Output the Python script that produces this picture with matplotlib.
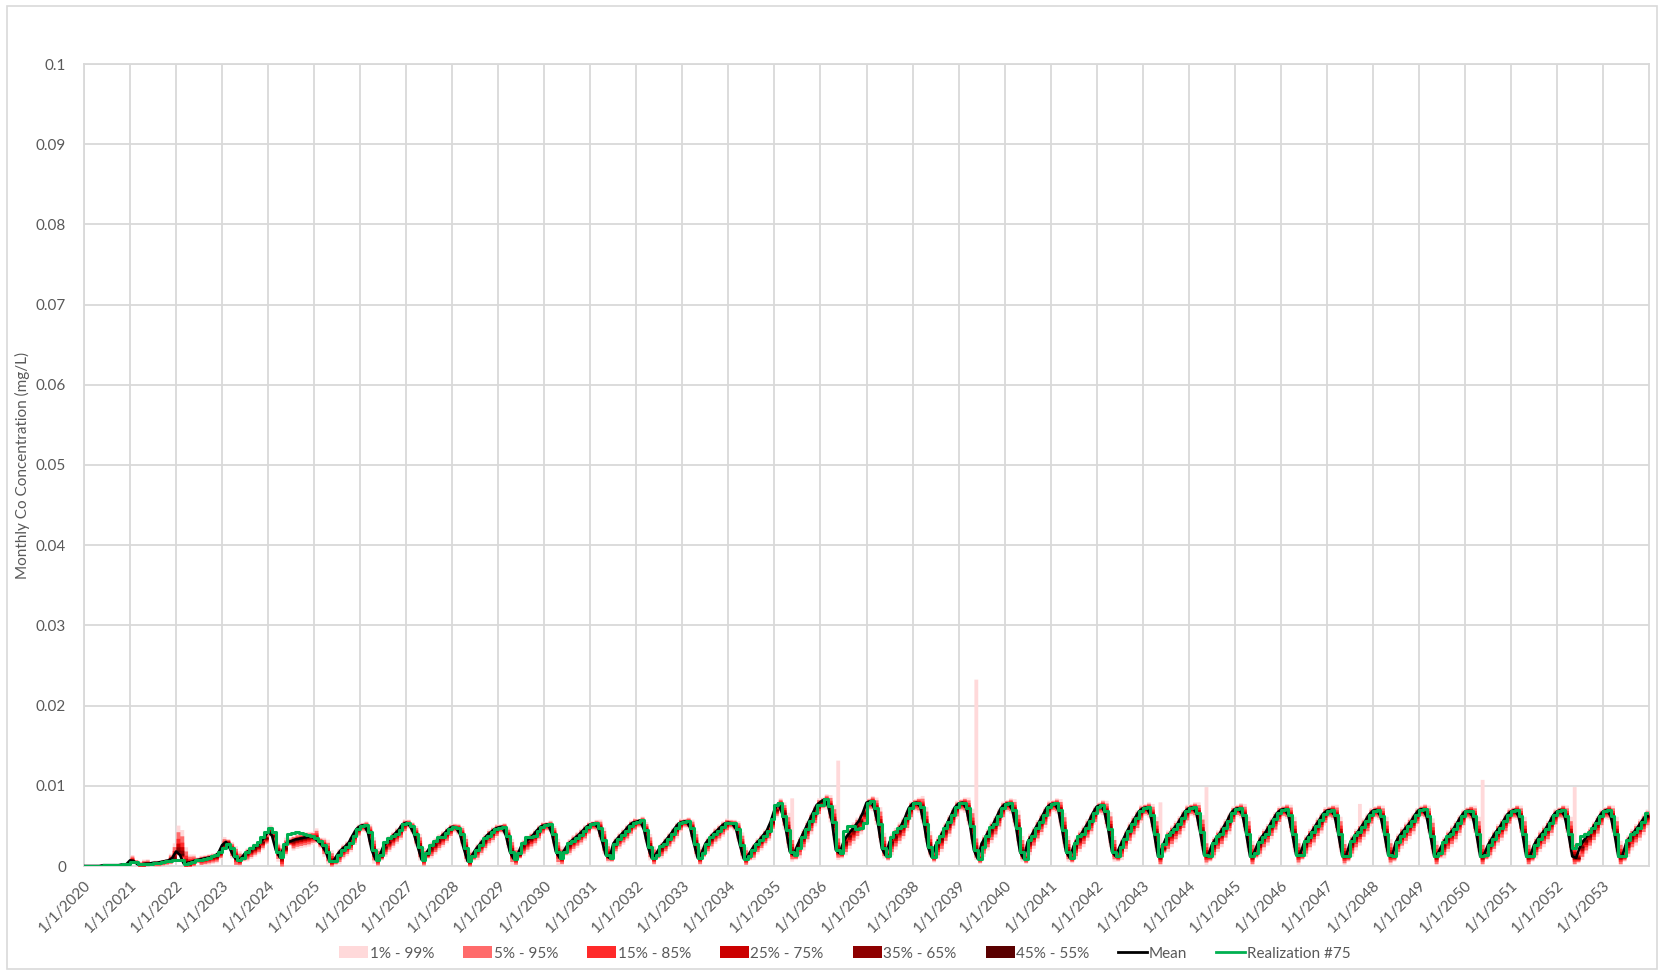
import numpy as np
import matplotlib.pyplot as plt
from matplotlib.patches import Patch, Rectangle
from matplotlib.lines import Line2D

plt.rcParams['font.family'] = ['Lato', 'DejaVu Sans']

# monthly mean Co concentration, units of 1e-4 mg/L, one row per year (Jan..Dec)
years = list(range(2020, 2054))
mean_monthly = [
    [0, 0, 0, 0, 0, 1, 1, 1, 1, 1, 2, 2],          # 2020
    [7, 6, 2, 2, 3, 3, 4, 4, 5, 6, 7, 10],         # 2021
    [18, 14, 3, 4, 5, 7, 8, 9, 10, 11, 12, 16],    # 2022
    [26, 30, 22, 12, 7, 10, 16, 19, 22, 25, 30, 35],  # 2023
    [43, 38, 20, 11, 22, 30, 31, 33, 34, 35, 36, 37],  # 2024
    [35, 31, 26, 18, 6, 6, 14, 20, 24, 29, 38, 46],   # 2025
    [50, 51, 42, 20, 8, 12, 24, 30, 35, 40, 45, 52],  # 2026
    [54, 50, 40, 24, 8, 14, 22, 27, 32, 36, 41, 46],  # 2027
    [49, 48, 40, 22, 6, 12, 20, 26, 32, 38, 42, 46],  # 2028
    [48, 49, 38, 18, 9, 14, 25, 30, 34, 38, 44, 49],  # 2029
    [51, 52, 40, 18, 10, 18, 26, 31, 35, 39, 44, 49],  # 2030
    [52, 53, 48, 32, 14, 10, 28, 34, 39, 44, 50, 54],  # 2031
    [55, 57, 45, 24, 10, 14, 22, 28, 34, 40, 47, 53],  # 2032
    [55, 56, 48, 28, 10, 16, 28, 34, 40, 44, 49, 53],  # 2033
    [54, 53, 46, 26, 9, 12, 20, 27, 32, 38, 44, 55],   # 2034
    [70, 78, 66, 45, 18, 14, 26, 36, 46, 56, 66, 76],  # 2035
    [80, 83, 75, 55, 20, 16, 30, 38, 44, 50, 56, 66],  # 2036
    [79, 81, 72, 52, 22, 13, 30, 37, 44, 50, 60, 72],  # 2037
    [78, 79, 74, 52, 24, 11, 26, 34, 44, 53, 63, 73],  # 2038
    [78, 79, 72, 50, 20, 9, 28, 36, 45, 52, 62, 72],   # 2039
    [77, 78, 70, 48, 18, 9, 30, 38, 47, 55, 64, 73],   # 2040
    [77, 78, 70, 45, 18, 10, 25, 34, 40, 48, 56, 66],  # 2041
    [74, 76, 68, 46, 18, 12, 24, 34, 44, 52, 60, 68],  # 2042
    [72, 73, 64, 40, 12, 22, 34, 40, 46, 52, 60, 68],  # 2043
    [72, 73, 66, 42, 14, 12, 26, 34, 40, 48, 56, 66],  # 2044
    [71, 72, 64, 40, 12, 16, 28, 36, 42, 50, 58, 66],  # 2045
    [70, 71, 63, 40, 14, 14, 28, 36, 42, 50, 57, 65],  # 2046
    [69, 70, 63, 40, 13, 12, 28, 36, 42, 49, 56, 64],  # 2047
    [69, 70, 62, 40, 14, 12, 30, 38, 44, 50, 56, 64],  # 2048
    [70, 71, 62, 38, 12, 16, 26, 34, 40, 46, 54, 62],  # 2049
    [68, 69, 62, 40, 12, 14, 26, 34, 42, 48, 56, 64],  # 2050
    [68, 70, 62, 40, 12, 12, 26, 34, 40, 46, 54, 63],  # 2051
    [68, 70, 62, 40, 12, 10, 24, 32, 38, 45, 53, 62],  # 2052
    [68, 70, 62, 40, 12, 12, 28, 36, 42, 48, 55, 62],  # 2053
]

# Realization #75 = mean + deviation (1e-4 mg/L)
real75_delta = [
    [0, 0, 0, 0, 0, 0, 0, 0, 0, 0, 0, 0],
    [-2, -1, 0, 0, 0, 0, 0, 0, 0, 0, -1, -2],
    [-11, -7, 0, 0, 0, 0, 0, 0, 0, 1, 2, 2],
    [-3, -2, 0, 0, 0, 0, 2, 3, 4, 5, 6, 8],
    [5, 4, -2, 0, 6, 10, 10, 9, 7, 5, 3, 1],
    [0, 0, 0, 0, 0, 0, 0, 0, 0, 0, 0, 0],
    [0, 0, 0, 0, 0, 2, 6, 5, 3, 0, 0, 0],
    [0, 0, 0, 0, 0, 2, 4, 4, 4, 0, 0, 0],
    [0, 0, 0, 0, 0, 0, 0, 0, 3, 0, 0, 0],
    [0, 0, 0, 0, 0, 2, 4, 6, 2, 0, 0, 0],
    [0, 0, 0, 0, 0, 0, 3, 0, 0, 0, 0, 0],
    [0, 0, 0, 0, 0, 0, 0, 0, 0, 0, 0, 0],
    [0, 0, 0, 0, 0, 0, 3, 0, 0, 0, 0, 0],
    [0, 0, 0, 0, 0, 0, 0, 2, 0, 0, 0, 0],
    [0, 0, 0, 0, 0, 0, 0, 0, 0, 0, 0, 3],
    [6, 0, -4, 0, 0, 0, -3, 0, 0, 0, 0, 0],
    [-4, 0, 0, 0, 0, 0, 14, 12, 6, -4, -8, -12],
    [0, 0, 0, 0, 0, 0, 6, 6, 4, 0, 0, 0],
    [0, 0, 0, 0, 0, 0, 4, 4, 3, 2, 0, 0],
    [0, 0, 0, 0, 0, 0, -4, 2, 4, 0, 0, 0],
    [0, 0, 0, 0, 0, 0, 3, 0, 0, 0, 0, 0],
    [0, 0, 0, 0, 0, 0, 4, 4, 0, 0, 0, 0],
    [0, 0, 0, 0, 0, 0, 0, 0, 0, 0, 0, 0],
    [0, 0, 0, 0, 0, 6, 5, 3, 0, 0, 0, 0],
    [0, 0, 0, 0, 0, 0, 3, 3, 0, 0, 0, 0],
    [0, 0, 0, 0, 0, 0, 2, 0, -2, 0, 0, 0],
    [0, 0, 0, 0, 0, 0, 3, 0, 0, 0, 0, 0],
    [0, 0, 0, 0, 0, 0, 3, 3, 0, 0, 0, 0],
    [0, 0, 0, 0, 0, 0, 0, 0, 0, 0, 0, 0],
    [0, 0, 0, 0, 0, 0, 4, 3, 0, 0, 0, 0],
    [0, 0, 0, 0, 0, 0, 0, 0, 0, 0, 0, 0],
    [0, 0, 0, 0, 0, 0, 0, 0, 0, 0, 0, 0],
    [0, 0, 0, 0, 10, 18, 14, 8, 4, 2, 0, 0],
    [0, 0, 0, 0, 0, 0, 4, 4, 0, 0, 0, 4],
]

# 1%-99% half-spread by month (above / below the mean), 1e-4 mg/L
spread_up = [6, 7, 14, 22, 20, 9, 11, 11, 11, 11, 10, 9]
spread_dn = [9, 12, 20, 22, 12, 6, 16, 16, 16, 16, 16, 14]
year_spread = [0.0, 0.3, 0.5, 0.6, 0.7, 0.7] + [0.75] * 9 + [1.0] * 19
# months with a much wider upper tail: (year, month index, multiplier)
wide_up = [(2021, 0, 4), (2021, 10, 3), (2021, 11, 7), (2022, 0, 11), (2022, 1, 9),
           (2022, 2, 3), (2023, 0, 3), (2024, 0, 2), (2025, 0, 3)]
# isolated 1%-99% spikes: (year, month index, top value 1e-4 mg/L)
spikes = [(2035, 4, 85), (2036, 4, 132), (2039, 4, 233), (2043, 4, 80),
          (2044, 4, 99), (2047, 8, 78), (2050, 4, 108), (2052, 4, 99)]

band_labels = ['1% - 99%', '5% - 95%', '15% - 85%', '25% - 75%', '35% - 65%', '45% - 55%']
band_frac = [1.0, 0.75, 0.5, 0.32, 0.18, 0.06]
band_colors = ['#FFD9DA', '#FF6B6B', '#FF2A2A', '#CC0000', '#8E0000', '#5A0000']

# ---- build series
n = len(years) * 12
t = 2020 + np.arange(n + 1) / 12.0
mean = np.array(mean_monthly, float).ravel()
real = mean + np.array(real75_delta, float).ravel()
scale = np.repeat(year_spread, 12)
up_mult = np.ones(n)
for y, m, k in wide_up:
    up_mult[(y - 2020) * 12 + m] = k
up = np.tile(spread_up, len(years)) * scale * up_mult
dn = np.tile(spread_dn, len(years)) * scale


def ext(a):
    return np.append(a, a[-1]) * 1e-4


fig = plt.figure(figsize=(16.63, 9.73), dpi=100)
ax = fig.add_axes([84 / 1663, 107 / 973, 1565 / 1663, 802 / 973])

for i, (lab, f, c) in enumerate(zip(band_labels, band_frac, band_colors)):
    hi = mean + up * f
    lo = np.clip(mean - dn * f, 0, None)
    if i == 0:
        hi = hi.copy()
        for y, m, top in spikes:
            hi[(y - 2020) * 12 + m] = top
    ax.fill_between(t, ext(lo), ext(hi), step='post', color=c, lw=0, zorder=2 + i)

ax.plot(t, ext(mean), color='black', lw=1.9, zorder=10)
ax.plot(t, ext(real), color='#00B050', lw=2.2, drawstyle='steps-post', zorder=11)

ax.set_xlim(2020, 2054)
ax.set_ylim(0, 0.1)
ax.set_xticks(years)
ax.set_xticklabels(['1/1/%d' % y for y in years], rotation=45, ha='right', va='top',
                   rotation_mode='anchor')
yt = np.arange(11) * 0.01
ax.set_yticks(yt)
ax.set_yticklabels(['0'] + ['%.2f' % v for v in yt[1:-1]] + ['0.1'])
ax.tick_params(length=0, labelsize=11, colors='#595959')
ax.tick_params(axis='y', pad=13)
ax.tick_params(axis='x', pad=9)
ax.grid(True, color='#D9D9D9', lw=1.3)
ax.set_axisbelow(True)
for s in ax.spines.values():
    s.set_color('#D9D9D9')
    s.set_linewidth(1.3)
ax.set_ylabel('Monthly Co Concentration (mg/L)', fontsize=11, color='#595959', labelpad=4)

handles = [Patch(facecolor=c, edgecolor='none') for c in band_colors]
handles += [Line2D([], [], color='black', lw=2), Line2D([], [], color='#00B050', lw=2)]
labels = band_labels + ['Mean', 'Realization #75']
fig.legend(handles, labels, loc='center', bbox_to_anchor=(0.508, 0.02), ncol=8,
           frameon=False, fontsize=11, handlelength=1.9, handleheight=0.8,
           handletextpad=0.1, columnspacing=1.9, labelcolor='#595959')

fig.patches.append(Rectangle((7 / 1663, 4 / 973), 1650 / 1663, 963 / 973,
                             transform=fig.transFigure, fill=False,
                             edgecolor='#D9D9D9', lw=1.2))

fig.savefig('out.png', dpi=100)
